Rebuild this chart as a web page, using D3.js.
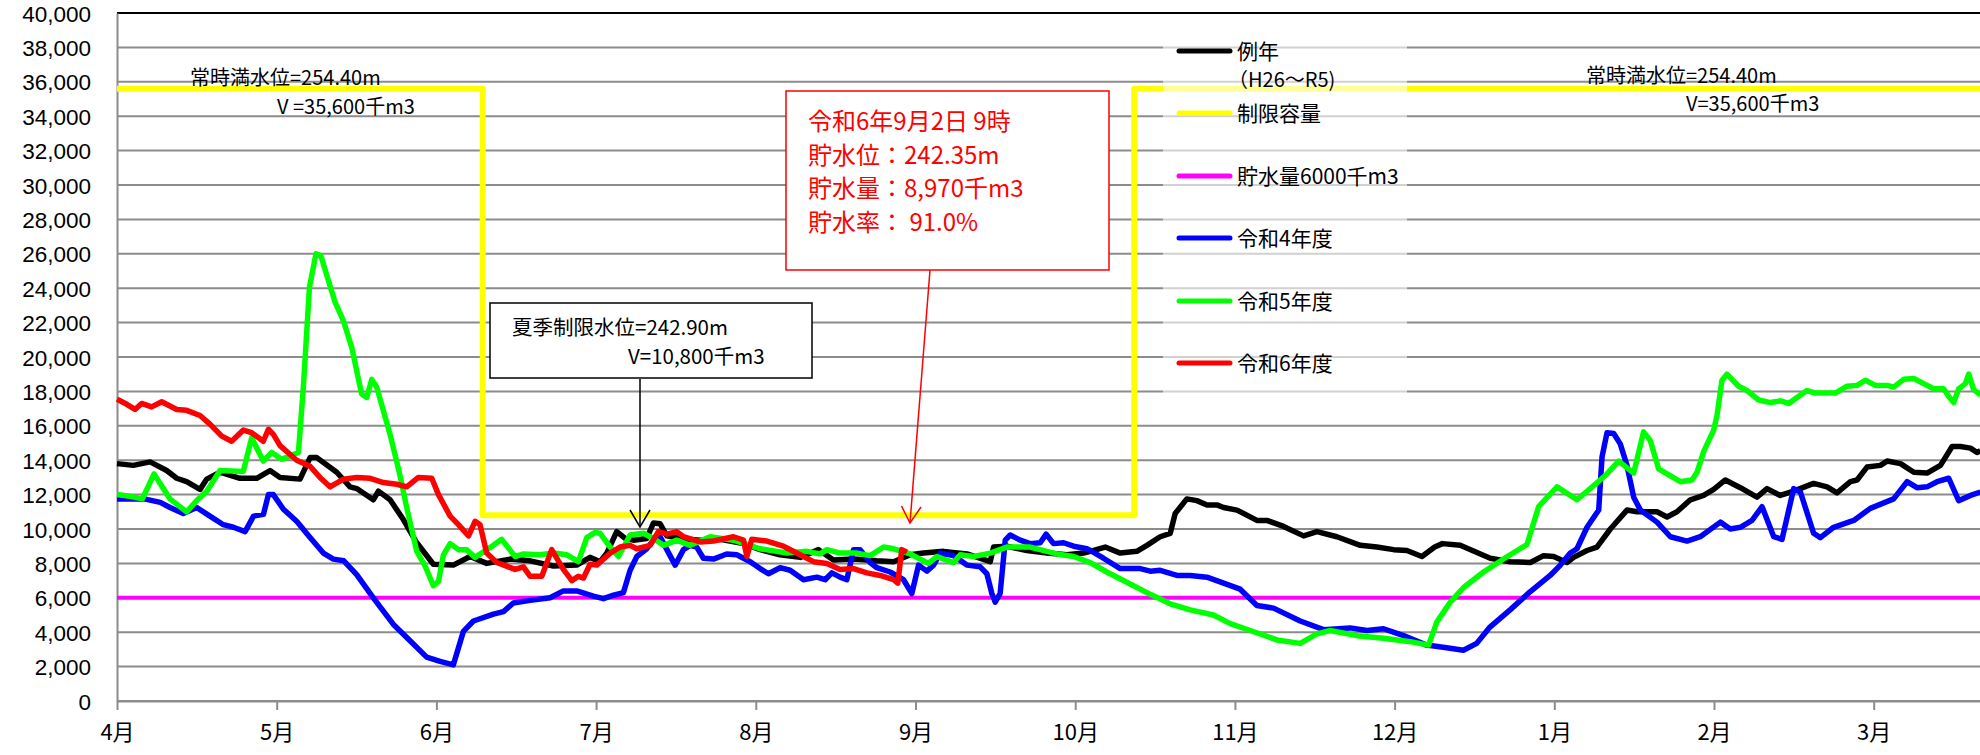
<!DOCTYPE html>
<html>
<head>
<meta charset="utf-8">
<script src="https://cdn.jsdelivr.net/npm/d3@7"></script>
<style>
  html, body { margin: 0; padding: 0; background: #fff; }
  svg { display: block; }
  text { font-family: "Noto Sans CJK JP", "Noto Sans", sans-serif; }
</style>
</head>
<body>
<svg id="chart" width="1980" height="755"></svg>
<script>
// ---- data (x = months elapsed since 1 April, y = storage in 千m3) ----
const monthLabels = ["4月","5月","6月","7月","8月","9月","10月","11月","12月","1月","2月","3月"];
const yTicks = d3.range(0, 40001, 2000);

const seriesNames = ["例年", "制限容量", "貯水量6000千m3", "令和4年度", "令和5年度", "令和6年度"];
const seriesColors = ["#000000", "#FFFF00", "#FF00FF", "#0000FF", "#00FF00", "#FF0000"];

const avgYear = [[0,13800],[0.102,13700],[0.207,13900],[0.311,13400],[0.374,12950],[0.436,12750],[0.52,12300],[0.562,12900],[0.645,13300],[0.77,12950],[0.875,12950],[0.958,13400],[1.021,13000],[1.146,12900],[1.209,14150],[1.251,14150],[1.376,13300],[1.459,12450],[1.501,12350],[1.605,11700],[1.637,12200],[1.71,11700],[1.793,10550],[1.877,9200],[1.981,7950],[2.106,7900],[2.211,8400],[2.315,8000],[2.461,8250],[2.587,8150],[2.733,7850],[2.879,7900],[2.962,8350],[3.025,8100],[3.067,8600],[3.129,9850],[3.182,9450],[3.234,9350],[3.317,9450],[3.359,10350],[3.401,10300],[3.443,9600],[3.526,9450],[3.651,9350],[3.777,9400],[3.923,9150],[4.027,8800],[4.152,8500],[4.278,8350],[4.393,8800],[4.486,8200],[4.612,8250],[4.758,8150],[4.863,8100],[4.967,8500],[5.05,8600],[5.175,8700],[5.322,8550],[5.468,8100],[5.489,8950],[5.572,9000],[5.697,8750],[5.823,8600],[5.948,8500],[6.052,8600],[6.094,8700],[6.188,8950],[6.282,8600],[6.386,8700],[6.449,9050],[6.532,9550],[6.595,9750],[6.626,10900],[6.699,11750],[6.762,11650],[6.825,11400],[6.887,11400],[6.929,11250],[7.013,11100],[7.138,10500],[7.2,10500],[7.305,10150],[7.43,9600],[7.514,9850],[7.639,9550],[7.785,9050],[7.889,8950],[7.994,8800],[8.077,8750],[8.171,8400],[8.251,8950],[8.299,9150],[8.411,9050],[8.599,8300],[8.724,8100],[8.85,8050],[8.933,8450],[8.996,8400],[9.079,8050],[9.121,8350],[9.205,8750],[9.267,8950],[9.351,10000],[9.455,11100],[9.518,11000],[9.643,11000],[9.706,10700],[9.768,11000],[9.852,11700],[9.935,11950],[9.998,12300],[10.071,12850],[10.165,12400],[10.269,11850],[10.332,12350],[10.415,11950],[10.499,12200],[10.624,12650],[10.708,12450],[10.77,12100],[10.854,12750],[10.896,12850],[10.958,13600],[11.042,13700],[11.084,13950],[11.168,13800],[11.251,13300],[11.334,13250],[11.418,13700],[11.491,14800],[11.543,14800],[11.606,14700],[11.647,14450],[11.668,14550]];

const limitCapacity = [[0,35600],[2.29,35600],[2.29,10800],[6.37,10800],[6.37,35600],[12,35600]];

const storage6000 = [[0,6000],[12,6000]];

const reiwa4 = [[0,11750],[0.171,11750],[0.271,11550],[0.332,11250],[0.415,10900],[0.499,11250],[0.582,10750],[0.666,10250],[0.729,10100],[0.802,9850],[0.855,10750],[0.917,10850],[0.948,12000],[0.979,12000],[1.042,11150],[1.125,10450],[1.209,9500],[1.292,8600],[1.355,8250],[1.42,8150],[1.501,7350],[1.605,6000],[1.731,4450],[1.835,3500],[1.939,2550],[2.023,2300],[2.106,2100],[2.169,4050],[2.232,4650],[2.357,5050],[2.42,5200],[2.482,5700],[2.587,5850],[2.712,6000],[2.795,6400],[2.879,6400],[2.983,6100],[3.046,5950],[3.109,6150],[3.171,6300],[3.213,7600],[3.255,8400],[3.317,8850],[3.359,9350],[3.401,9550],[3.443,8800],[3.495,7900],[3.547,8800],[3.589,9050],[3.63,8950],[3.672,8300],[3.735,8250],[3.818,8550],[3.881,8500],[3.965,8100],[4.027,7700],[4.079,7400],[4.152,7750],[4.215,7600],[4.299,7050],[4.382,7200],[4.434,7050],[4.476,7450],[4.528,7200],[4.57,7050],[4.612,8800],[4.653,8800],[4.716,8050],[4.758,7750],[4.841,7500],[4.925,7050],[4.977,6250],[5.019,7900],[5.071,7550],[5.113,7900],[5.155,8600],[5.238,8450],[5.322,7900],[5.405,7800],[5.447,7400],[5.478,6250],[5.499,5750],[5.53,6250],[5.562,9350],[5.593,9650],[5.656,9350],[5.718,9150],[5.781,9200],[5.818,9700],[5.864,9150],[5.927,9200],[5.99,9000],[6.073,8850],[6.094,8750],[6.177,8300],[6.282,7700],[6.407,7700],[6.47,7550],[6.532,7600],[6.637,7300],[6.72,7300],[6.825,7200],[6.929,6850],[7.033,6500],[7.138,5550],[7.242,5400],[7.409,4650],[7.555,4150],[7.722,4250],[7.827,4100],[7.931,4200],[8.056,3800],[8.2,3250],[8.326,3100],[8.431,2950],[8.514,3350],[8.597,4300],[8.723,5300],[8.848,6350],[8.974,7300],[9.038,7900],[9.1,8600],[9.142,8850],[9.205,10100],[9.278,11100],[9.299,14200],[9.33,15600],[9.372,15550],[9.413,14950],[9.455,13700],[9.497,11850],[9.539,11100],[9.643,10400],[9.727,9550],[9.831,9300],[9.914,9550],[10.04,10400],[10.102,10000],[10.165,10100],[10.238,10500],[10.301,11300],[10.374,9550],[10.426,9400],[10.499,12350],[10.541,12150],[10.624,9750],[10.666,9500],[10.749,10100],[10.875,10500],[10.979,11200],[11.125,11750],[11.209,12750],[11.271,12400],[11.334,12450],[11.397,12750],[11.47,12950],[11.532,11650],[11.606,11950],[11.668,12150]];

const reiwa5 = [[0,12000],[0.081,11900],[0.159,11750],[0.232,13200],[0.332,11750],[0.436,11000],[0.499,11650],[0.562,12200],[0.645,13400],[0.791,13350],[0.843,15300],[0.916,13950],[0.969,14450],[1.031,14050],[1.136,14450],[1.167,18250],[1.205,24050],[1.246,26000],[1.276,25900],[1.365,23200],[1.418,22100],[1.47,20550],[1.532,17850],[1.564,17650],[1.595,18700],[1.626,18250],[1.71,15500],[1.77,13200],[1.814,11250],[1.877,8700],[1.929,7850],[1.981,6700],[2.013,6950],[2.044,8500],[2.086,9150],[2.138,8800],[2.19,8800],[2.242,8350],[2.357,9050],[2.409,9400],[2.493,8400],[2.545,8550],[2.649,8500],[2.733,8600],[2.817,8500],[2.889,8100],[2.942,9500],[2.994,9800],[3.025,9750],[3.088,8950],[3.14,8400],[3.213,9650],[3.296,9750],[3.359,9450],[3.422,9050],[3.505,9350],[3.589,9050],[3.714,9550],[3.86,9350],[4.027,8850],[4.194,8600],[4.319,8700],[4.403,8550],[4.445,8800],[4.528,8600],[4.633,8600],[4.716,8450],[4.8,8950],[4.863,8850],[4.967,8550],[5.081,8000],[5.134,8400],[5.238,8050],[5.28,8500],[5.363,8400],[5.468,8600],[5.572,8950],[5.718,8950],[5.885,8550],[5.99,8400],[6.094,8050],[6.198,7500],[6.344,6800],[6.47,6200],[6.595,5650],[6.72,5300],[6.866,5000],[6.971,4500],[7.096,4100],[7.263,3550],[7.409,3350],[7.514,3900],[7.597,4100],[7.764,3800],[7.931,3650],[8.098,3450],[8.213,3250],[8.265,4600],[8.349,5750],[8.432,6600],[8.557,7500],[8.706,8400],[8.829,9100],[8.902,11300],[9.017,12450],[9.142,11700],[9.225,12350],[9.33,13200],[9.403,13950],[9.497,13250],[9.559,15650],[9.601,15150],[9.653,13500],[9.706,13200],[9.789,12750],[9.862,12850],[9.894,13300],[9.935,14500],[9.998,15750],[10.019,16600],[10.05,18650],[10.081,19000],[10.154,18300],[10.207,18050],[10.28,17500],[10.353,17350],[10.415,17450],[10.468,17300],[10.52,17650],[10.582,18050],[10.635,17900],[10.708,17900],[10.76,17900],[10.833,18300],[10.896,18350],[10.948,18650],[11.01,18350],[11.084,18350],[11.125,18250],[11.188,18700],[11.251,18750],[11.313,18450],[11.376,18150],[11.438,18150],[11.47,17700],[11.501,17350],[11.532,18150],[11.574,18450],[11.595,19000],[11.626,18100],[11.668,17800]];

const reiwa6 = [[0,17550],[0.061,17250],[0.113,16950],[0.154,17300],[0.217,17100],[0.28,17400],[0.374,16950],[0.436,16900],[0.52,16600],[0.582,16100],[0.656,15400],[0.718,15100],[0.791,15750],[0.843,15600],[0.916,15100],[0.948,15800],[0.979,15500],[1.021,14850],[1.125,14000],[1.209,13650],[1.271,13000],[1.334,12450],[1.418,12900],[1.501,13000],[1.585,12950],[1.668,12700],[1.752,12600],[1.814,12450],[1.887,13000],[1.971,12950],[2.013,12000],[2.086,10750],[2.138,10250],[2.201,9600],[2.242,10450],[2.273,10250],[2.315,8600],[2.378,8050],[2.493,7650],[2.545,7800],[2.587,7250],[2.66,7250],[2.722,8800],[2.795,7650],[2.848,7000],[2.889,7250],[2.921,7150],[2.962,7950],[3.004,7900],[3.088,8600],[3.15,8950],[3.213,9050],[3.255,8850],[3.338,9050],[3.39,9850],[3.443,9700],[3.505,9850],[3.547,9550],[3.651,9250],[3.735,9300],[3.86,9550],[3.923,9350],[3.944,8400],[3.975,9400],[4.069,9300],[4.173,9000],[4.278,8500],[4.361,8100],[4.445,8000],[4.528,7650],[4.612,7700],[4.695,7450],[4.779,7300],[4.863,7050],[4.889,6850],[4.914,8800],[4.946,8650]];

const allSeries = [avgYear, limitCapacity, storage6000, reiwa4, reiwa5, reiwa6];

// ---- layout ----
const svg = d3.select("#chart");
const x = d3.scaleLinear().domain([0, 12]).range([117, 117 + 12 * 159.7]);
const y = d3.scaleLinear().domain([0, 40000]).range([701, 13]);

// gridlines
svg.append("g").selectAll("line").data(yTicks).join("line")
  .attr("x1", x(0)).attr("x2", x(12))
  .attr("y1", d => y(d)).attr("y2", d => y(d))
  .attr("stroke", d => d === 40000 ? "#000" : "#8c8c8c")
  .attr("stroke-width", 2);

// y axis
const yAxis = svg.append("g").attr("transform", `translate(${x(0)},0)`)
  .call(d3.axisLeft(y).tickValues(yTicks).tickFormat(d3.format(",")).tickSize(0).tickPadding(26));
yAxis.select(".domain").attr("stroke", "#8c8c8c").attr("stroke-width", 2);
yAxis.selectAll("text").attr("font-size", 22.5).attr("fill", "#000").attr("dy", "0.36em")
  .style("font-family", "'Liberation Sans', sans-serif");

// x axis
const xAxis = svg.append("g").attr("transform", `translate(0,${y(0)})`)
  .call(d3.axisBottom(x).tickValues(d3.range(0, 12)).tickFormat(i => monthLabels[i]).tickSize(9).tickSizeOuter(0).tickPadding(14));
xAxis.select(".domain").attr("stroke", "#8c8c8c").attr("stroke-width", 2);
xAxis.selectAll(".tick line").attr("stroke", "#8c8c8c").attr("stroke-width", 2);
xAxis.selectAll("text").attr("font-size", 22).attr("fill", "#000");

// series lines
const line = d3.line().x(d => x(d[0])).y(d => y(d[1]));
const widths = [5.5, 6, 4, 5.5, 5.5, 5.5];
svg.append("g").selectAll("path").data(allSeries).join("path")
  .attr("d", line)
  .attr("fill", "none")
  .attr("stroke", (d, i) => seriesColors[i])
  .attr("stroke-width", (d, i) => widths[i])
  .attr("stroke-linejoin", "round")
  .attr("stroke-linecap", "butt");

// legend
const lg = svg.append("g");
lg.append("rect").attr("x", 1163).attr("y", 30).attr("width", 244).attr("height", 372)
  .attr("fill", "#fff").attr("fill-opacity", 0.6);
const legY = [51, 113, 176, 238, 301, 363];
seriesNames.forEach((name, i) => {
  lg.append("line").attr("x1", 1179).attr("x2", 1230)
    .attr("y1", legY[i]).attr("y2", legY[i])
    .attr("stroke", seriesColors[i]).attr("stroke-width", 5).attr("stroke-linecap", "round");
  lg.append("text").attr("x", 1237).attr("y", legY[i]).attr("dy", "0.36em")
    .attr("font-size", 21).text(name);
});
lg.append("text").attr("x", 1228).attr("y", 80).attr("dy", "0.36em").attr("font-size", 20).text("（H26～R5)");

// full-water-level annotations
const ann = svg.append("g").attr("font-size", 20).attr("fill", "#000");
ann.append("text").attr("x", 190).attr("y", 78).attr("dy", "0.36em").text("常時満水位=254.40m");
ann.append("text").attr("x", 277).attr("y", 107).attr("dy", "0.36em").text("V =35,600千m3");
ann.append("text").attr("x", 1586).attr("y", 76).attr("dy", "0.36em").text("常時満水位=254.40m");
ann.append("text").attr("x", 1686).attr("y", 104).attr("dy", "0.36em").text("V=35,600千m3");

// summer limit box
const sb = svg.append("g");
sb.append("line").attr("x1", 640).attr("x2", 640).attr("y1", 379).attr("y2", 527)
  .attr("stroke", "#000").attr("stroke-width", 1.5);
sb.append("polyline").attr("points", "630,510 640,527 650,510")
  .attr("fill", "none").attr("stroke", "#000").attr("stroke-width", 1.5);
sb.append("rect").attr("x", 490).attr("y", 303).attr("width", 322).attr("height", 75)
  .attr("fill", "#fff").attr("stroke", "#000").attr("stroke-width", 1.5);
sb.append("text").attr("x", 512).attr("y", 328).attr("dy", "0.36em").attr("font-size", 20.5).text("夏季制限水位=242.90m");
sb.append("text").attr("x", 628).attr("y", 357).attr("dy", "0.36em").attr("font-size", 20.5).text("V=10,800千m3");

// current status box
const cb = svg.append("g");
cb.append("line").attr("x1", 930).attr("y1", 270).attr("x2", 910).attr("y2", 523)
  .attr("stroke", "#FF0000").attr("stroke-width", 1.5);
cb.append("polyline").attr("points", "901.5,506 910,523 921,507")
  .attr("fill", "none").attr("stroke", "#FF0000").attr("stroke-width", 1.5);
cb.append("rect").attr("x", 786).attr("y", 91).attr("width", 323).attr("height", 179)
  .attr("fill", "#fff").attr("stroke", "#FF0000").attr("stroke-width", 1.5);
const statusLines = ["令和6年9月2日 9時", "貯水位：242.35m", "貯水量：8,970千m3", "貯水率： 91.0%"];
const statusY = [121, 155, 188, 222];
statusLines.forEach((t, i) => {
  cb.append("text").attr("x", 808).attr("y", statusY[i]).attr("dy", "0.36em")
    .attr("font-size", 24).attr("fill", "#FF0000").text(t);
});
</script>
</body>
</html>
